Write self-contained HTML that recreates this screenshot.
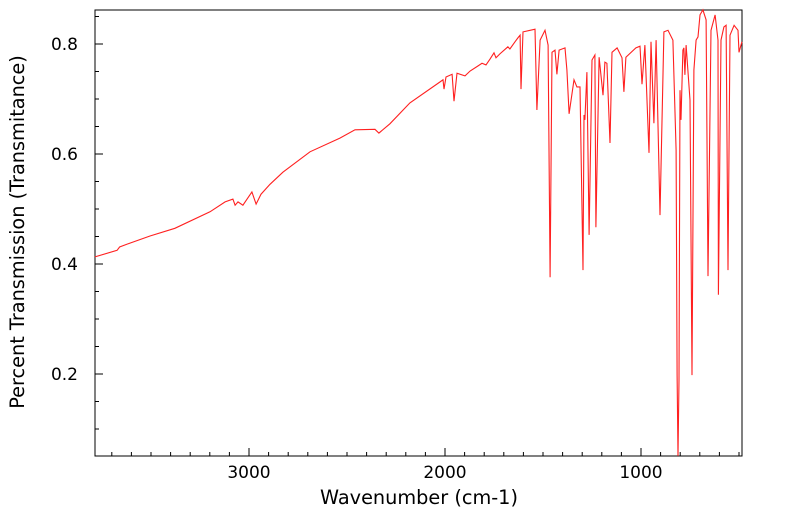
<!DOCTYPE html>
<html><head><meta charset="utf-8"><style>
body{margin:0;background:#fff;}
svg{display:block;font-family:"DejaVu Sans","Liberation Sans",sans-serif;}
</style></head><body>
<svg id="chart" width="799" height="516" viewBox="0 0 799 516">
<rect x="95" y="10" width="647" height="446" fill="#fff" stroke="#000" stroke-width="1"/>
<g id="ticks"></g>
<g id="labels"></g>
<path id="line" fill="none" stroke="#ff2020" stroke-width="1.1"/>
<text x="419" y="504" font-size="19.3" text-anchor="middle">Wavenumber (cm-1)</text>
<text transform="translate(24,232) rotate(-90)" font-size="19.3" text-anchor="middle">Percent Transmission (Transmitance)</text>
</svg>
<script>
const wavenumbers=[3786,3673,3660,3607,3505,3378,3199,3122,3082,3071,3056,3031,2985,2964,2939,2893,2827,2689,2536,2459,2357,2337,2281,2179,2026,2010,2005,1995,1964,1954,1939,1898,1872,1832,1811,1791,1770,1750,1740,1720,1679,1669,1643,1628,1617,1612,1602,1566,1541,1531,1515,1490,1474,1464,1454,1439,1429,1418,1388,1378,1367,1342,1327,1311,1296,1291,1286,1276,1265,1250,1235,1230,1214,1199,1194,1184,1174,1158,1148,1122,1097,1087,1077,1026,1005,995,980,959,949,934,923,903,883,862,837,821,816,811,806,801,796,786,781,776,770,750,740,730,719,709,699,684,668,658,643,622,607,605,592,577,566,556,546,525,505,500,485];
const transmission=[0.413,0.425,0.431,0.438,0.451,0.465,0.495,0.513,0.518,0.507,0.513,0.507,0.531,0.509,0.527,0.545,0.567,0.604,0.629,0.644,0.645,0.638,0.655,0.693,0.731,0.735,0.718,0.740,0.745,0.696,0.747,0.742,0.751,0.760,0.765,0.762,0.773,0.784,0.775,0.782,0.795,0.791,0.804,0.811,0.816,0.718,0.822,0.825,0.827,0.680,0.807,0.825,0.798,0.376,0.785,0.789,0.745,0.789,0.793,0.753,0.673,0.735,0.722,0.722,0.389,0.671,0.662,0.749,0.453,0.771,0.780,0.467,0.776,0.725,0.707,0.767,0.765,0.620,0.785,0.793,0.775,0.713,0.776,0.793,0.796,0.727,0.798,0.602,0.804,0.656,0.807,0.489,0.822,0.825,0.807,0.607,0.198,0.051,0.189,0.716,0.662,0.789,0.793,0.744,0.798,0.698,0.198,0.753,0.807,0.813,0.853,0.862,0.844,0.378,0.825,0.853,0.807,0.344,0.807,0.831,0.834,0.389,0.816,0.834,0.825,0.785,0.804];
const xMajor=[3000,2000,1000];
const yMajor=[0.2,0.4,0.6,0.8];
const X=w=>249+(3000-w)*0.196;
const Y=t=>44+(0.8-t)*550;
const NS="http://www.w3.org/2000/svg";
let d="";
for(let i=0;i<wavenumbers.length;i++){d+=(i?"L":"M")+X(wavenumbers[i]).toFixed(1)+" "+Y(transmission[i]).toFixed(1);}
document.getElementById('line').setAttribute('d',d);
const tg=document.getElementById('ticks'),lg=document.getElementById('labels');
function ln(x1,y1,x2,y2){const l=document.createElementNS(NS,'line');
l.setAttribute('x1',x1);l.setAttribute('y1',y1);l.setAttribute('x2',x2);l.setAttribute('y2',y2);
l.setAttribute('stroke','#000');l.setAttribute('stroke-width','1');


tg.appendChild(l);}
for(let w=500;w<=3700;w+=100){const x=X(w);if(x<95||x>742)continue;const maj=w%1000===0;ln(x,456,x,456-(maj?8:4));}
for(let k=1;k<=17;k++){const t=k*0.05;const y=Y(t);if(y<10||y>456)continue;const maj=k%4===0;ln(95,y,95+(maj?8:4),y);}
xMajor.forEach(w=>{const t=document.createElementNS(NS,'text');t.setAttribute('x',X(w));t.setAttribute('y',478);t.setAttribute('font-size','17');t.setAttribute('text-anchor','middle');t.textContent=w;


lg.appendChild(t);});
yMajor.forEach(v=>{const t=document.createElementNS(NS,'text');t.setAttribute('x',78);t.setAttribute('y',Y(v)+6);t.setAttribute('font-size','17');t.setAttribute('text-anchor','end');t.textContent=v.toFixed(1);


lg.appendChild(t);});
</script>
</body></html>
